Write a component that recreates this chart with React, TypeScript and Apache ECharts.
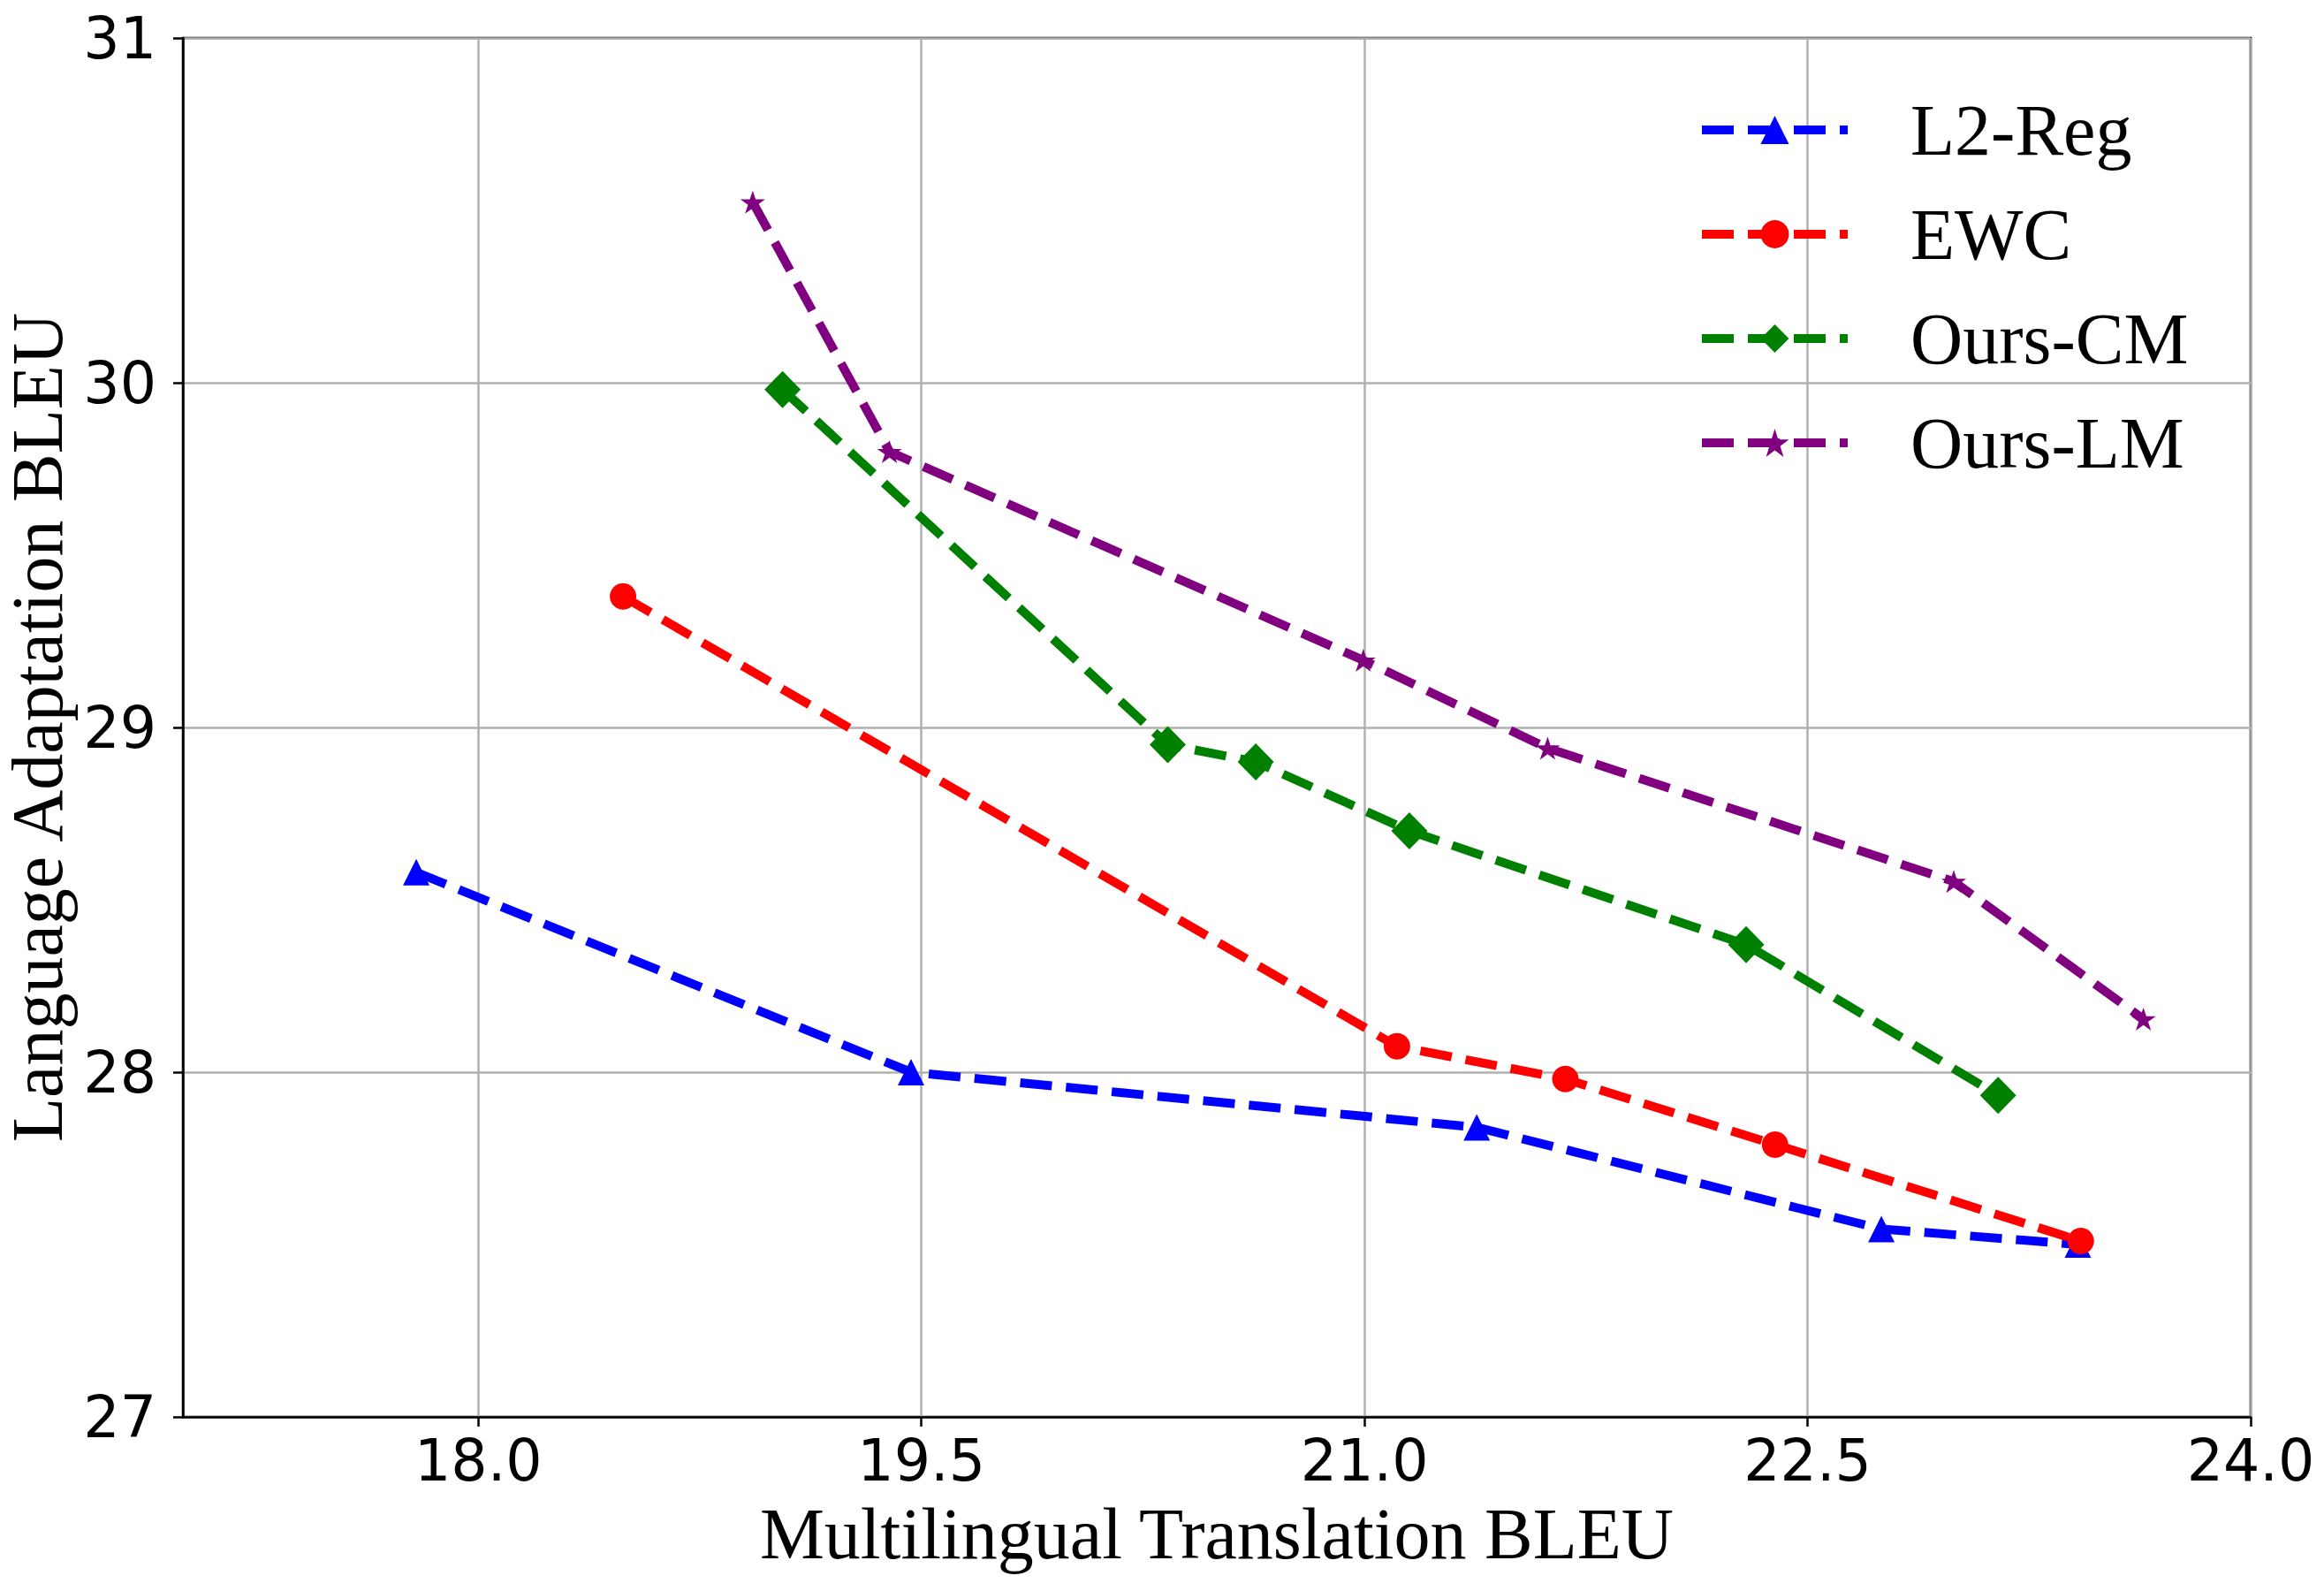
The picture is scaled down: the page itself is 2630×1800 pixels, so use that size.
import React, { useEffect, useRef } from "react";
import * as echarts from "echarts";

// ---- data ----
const seriesNames = ["L2-Reg", "EWC", "Ours-CM", "Ours-LM"];
const l2RegX = [17.79, 19.465, 21.38, 22.75, 23.415];
const l2RegY = [28.58, 28.0, 27.84, 27.545, 27.5];
const ewcX = [18.49, 21.11, 21.68, 22.39, 23.425];
const ewcY = [29.38, 28.075, 27.98, 27.79, 27.51];
const oursCmX = [19.03, 20.334, 20.632, 21.152, 22.292, 23.145];
const oursCmY = [29.98, 28.95, 28.9, 28.7, 28.37, 27.933];
const oursLmX = [18.929, 19.392, 20.996, 21.62, 22.995, 23.637];
const oursLmY = [30.524, 29.8, 29.195, 28.94, 28.553, 28.154];
const xTickValues = [18.0, 19.5, 21.0, 22.5, 24.0];
const xMin = 17;
const xMax = 24;
const yMin = 27;
const yMax = 31;
const yStep = 1;
const xTitle = "Multilingual Translation BLEU";
const yTitle = "Language Adaptation BLEU";

const STAR =
  "path://M0,-1L0.2245,-0.309L0.9511,-0.309L0.3633,0.118L0.5878,0.809L0,0.382L-0.5878,0.809L-0.3633,0.118L-0.9511,-0.309L-0.2245,-0.309Z";

const zip = (xs: number[], ys: number[]) => xs.map((x, i) => [x, ys[i]]);

export default function App() {
  const ref = useRef<HTMLDivElement>(null);
  useEffect(() => {
    if (!ref.current) return;
    const chart = echarts.init(ref.current, undefined, { renderer: "svg" });
    const dash = [36, 16];
    const mk = (
      name: string,
      data: number[][],
      color: string,
      symbol: string,
      symbolSize: number | number[]
    ) => ({
      name,
      type: "line",
      data,
      symbol,
      symbolSize,
      showSymbol: true,
      itemStyle: { color },
      lineStyle: { color, width: 10, type: dash },
      z: 3,
    });
    const serif = "'Liberation Serif', 'Times New Roman', serif";
    const sans = "'DejaVu Sans', sans-serif";
    chart.setOption({
      animation: false,
      backgroundColor: "#ffffff",
      grid: {
        left: 207,
        right: 83,
        top: 43,
        bottom: 197,
        containLabel: false,
        outerBoundsMode: "none",
        show: true,
        borderColor: "#000000",
        borderWidth: 2.5,
        backgroundColor: "transparent",
      },
      legend: {
        orient: "vertical",
        left: 1921,
        top: 106,
        padding: 0,
        itemWidth: 165,
        itemHeight: 40,
        itemGap: 36,
        data: seriesNames,
        lineStyle: { width: 10, type: dash },
        textStyle: {
          fontFamily: serif,
          fontSize: 82,
          lineHeight: 82,
          color: "#000000",
          padding: [0, 0, 0, 66],
        },
      },
      xAxis: {
        type: "value",
        min: xMin,
        max: xMax,
        name: xTitle,
        nameLocation: "middle",
        nameGap: 132,
        nameTextStyle: {
          fontFamily: serif,
          fontSize: 82,
          color: "#000000",
          verticalAlign: "middle",
        },
        axisLine: { show: true, lineStyle: { color: "#000000", width: 2.5 } },
        axisTick: {
          show: true,
          inside: false,
          length: 11,
          lineStyle: { color: "#000000", width: 2.5 },
          customValues: xTickValues,
        },
        axisLabel: {
          customValues: xTickValues,
          margin: 17,
          fontFamily: sans,
          fontSize: 65,
          color: "#000000",
          formatter: (v: number) => v.toFixed(1),
        },
        splitLine: { show: true, lineStyle: { color: "#b0b0b0", width: 2.5 } },
      },
      yAxis: {
        type: "value",
        min: yMin,
        max: yMax,
        interval: yStep,
        name: yTitle,
        nameLocation: "middle",
        nameGap: 162,
        nameTextStyle: {
          fontFamily: serif,
          fontSize: 82,
          lineHeight: 66,
          color: "#000000",
          verticalAlign: "middle",
        },
        axisLine: { show: true, lineStyle: { color: "#000000", width: 2.5 } },
        axisTick: {
          show: true,
          inside: false,
          length: 11,
          lineStyle: { color: "#000000", width: 2.5 },
        },
        axisLabel: {
          margin: 30,
          fontFamily: sans,
          fontSize: 65,
          color: "#000000",
          formatter: (v: number) => String(v),
        },
        splitLine: { show: true, lineStyle: { color: "#b0b0b0", width: 2.5 } },
      },
      series: [
        mk(seriesNames[0], zip(l2RegX, l2RegY), "#0000ff", "triangle", 30),
        mk(seriesNames[1], zip(ewcX, ewcY), "#ff0000", "circle", 30),
        mk(seriesNames[2], zip(oursCmX, oursCmY), "#008000", "diamond", [41, 42]),
        mk(seriesNames[3], zip(oursLmX, oursLmY), "#800080", STAR, [28, 26]),
      ],
    });
    return () => chart.dispose();
  }, []);
  return (
    <div
      ref={ref}
      style={{ position: "fixed", left: 0, top: 0, width: 2630, height: 1800, background: "#fff" }}
    />
  );
}
